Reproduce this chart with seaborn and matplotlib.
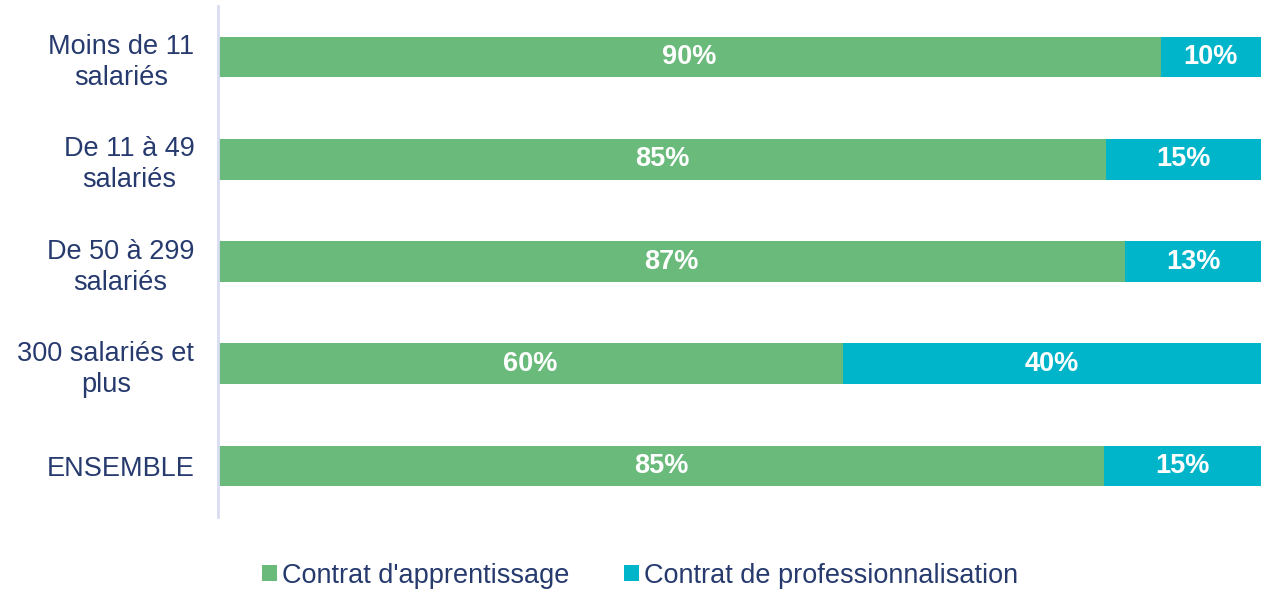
from matplotlib import pyplot as plt
from matplotlib.patches import Patch
import pandas as pd
import seaborn as sns

categories = ['Moins de 11\nsalariés', 'De 11 à 49\nsalariés', 'De 50 à 299\nsalariés',
              '300 salariés et\nplus', 'ENSEMBLE']
apprentissage = [90.4, 85.2, 87.0, 59.9, 85.0]
professionnalisation = [9.6, 14.8, 13.0, 40.1, 15.0]
series_names = ["Contrat d'apprentissage", 'Contrat de professionnalisation']

green = '#6aba7b'
teal = '#00b5c9'
navy = '#263a6e'

df = pd.DataFrame({'cat': categories,
                   'appr': apprentissage,
                   'pro': professionnalisation})
df['total'] = df['appr'] + df['pro']

sns.set_style('white')
plt.rcParams['font.family'] = ['Liberation Sans', 'DejaVu Sans']

fig = plt.figure(figsize=(12.71, 5.91), dpi=100)
ax = fig.add_axes([0.1715, 0.125, 0.8205, 0.865])

sns.barplot(data=df, y='cat', x='total', color=teal, orient='h', width=0.4,
            ax=ax, saturation=1, edgecolor='none')
sns.barplot(data=df, y='cat', x='appr', color=green, orient='h', width=0.4,
            ax=ax, saturation=1, edgecolor='none')

# labels
for i, row in df.iterrows():
    ax.text(row['appr'] / 2, i, f"{row['appr']:.0f}%", ha='center', va='center',
            color='white', fontsize=19.5, fontweight='bold')
    ax.text(row['appr'] + row['pro'] / 2, i, f"{row['pro']:.0f}%", ha='center',
            va='center', color='white', fontsize=19.5, fontweight='bold')

ax.set_xlim(0, 100)
ax.set_xlabel('')
ax.set_ylabel('')
ax.set_xticks([])
ax.tick_params(axis='y', length=0, pad=17, labelsize=19.5, labelcolor=navy)
for lbl in ax.get_yticklabels():
    lbl.set_multialignment('center')
    lbl.set_linespacing(1.25)

for side in ['top', 'right', 'bottom']:
    ax.spines[side].set_visible(False)
ax.spines['left'].set_color('#d9ddf2')
ax.spines['left'].set_linewidth(2)

handles = [Patch(facecolor=green, edgecolor='none'),
           Patch(facecolor=teal, edgecolor='none')]
leg = fig.legend(handles, series_names, loc='center', bbox_to_anchor=(0.5035, 0.026),
                 ncol=2, frameon=False, fontsize=19.5, handlelength=0.55,
                 handleheight=0.55, handletextpad=0.2, columnspacing=2.0)
for t in leg.get_texts():
    t.set_color(navy)

fig.savefig('out.png', dpi=100)
